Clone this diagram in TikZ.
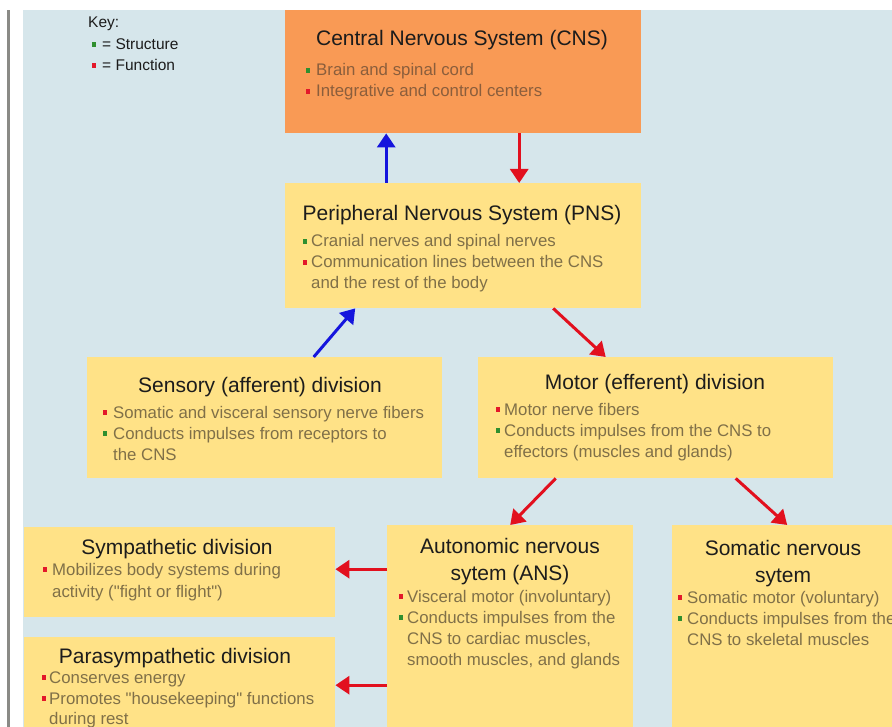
\documentclass[tikz,border=0pt]{standalone}
\usepackage{fontspec}
\setmainfont{Liberation Sans}[Ligatures=TeXOff]
\usetikzlibrary{arrows.meta}
\definecolor{bgblue}{HTML}{D6E6EB}
\definecolor{orangebox}{HTML}{F99A55}
\definecolor{yellowbox}{HTML}{FFE287}
\definecolor{bodytxt}{HTML}{807048}
\definecolor{bodytxtO}{HTML}{8B5E3C}
\definecolor{titletxt}{HTML}{1C1C1C}
\definecolor{arrblue}{HTML}{1515DD}
\definecolor{arrred}{HTML}{E2101E}
\definecolor{bulgreen}{HTML}{2F8F2F}
\definecolor{bulred}{HTML}{E3182A}
\definecolor{edgegray}{HTML}{8A8A86}
\newcommand{\bul}[2]{\llap{\textcolor{#1}{\rule[3.2pt]{4.5pt}{4.5pt}}\hspace{#2}}}
\begin{document}
\begin{tikzpicture}[x=1pt,y=-1pt,
  box/.style={rectangle, draw=none, inner sep=0, anchor=north west},
  ybox/.style={box, fill=yellowbox},
  title/.style={font=\fontsize{21}{25}\selectfont, text=titletxt, inner sep=0, anchor=base},
  body/.style={font=\fontsize{16.8}{20}\selectfont, text=bodytxt, inner sep=0, anchor=base west},
  keytxt/.style={font=\fontsize{15.5}{19}\selectfont, text=titletxt, inner sep=0, anchor=base west},
  arr/.style={line width=3pt, -{Triangle[width=18pt,length=14pt]}},
  barr/.style={arr, draw=arrblue, color=arrblue},
  rarr/.style={arr, draw=arrred, color=arrred}]
\useasboundingbox (0,0) rectangle (892,727);
\clip (0,0) rectangle (892,727);
\fill[white] (0,0) rectangle (892,727);
\fill[bgblue] (23,10) rectangle (892,727);
\fill[edgegray] (7,10) rectangle (9.5,727);

% key
\node[keytxt] (key) at (88,28) {Key:};
\node[keytxt] (keys) at (102,50) {\bul{bulgreen}{6pt}= Structure};
\node[keytxt] (keyf) at (102,71) {\bul{bulred}{6pt}= Function};

% boxes
\node[box, fill=orangebox, minimum width=356, minimum height=123] (cns) at (285,10) {};
\node[ybox, minimum width=356, minimum height=125] (pns) at (285,183) {};
\node[ybox, minimum width=355, minimum height=121] (sens) at (87,357) {};
\node[ybox, minimum width=355, minimum height=121] (mot) at (478,357) {};
\node[ybox, minimum width=311, minimum height=90] (symp) at (24,527) {};
\node[ybox, minimum width=311, minimum height=96] (para) at (24,637) {};
\node[ybox, minimum width=246, minimum height=210] (ans) at (387,525) {};
\node[ybox, minimum width=230, minimum height=210] (som) at (672,525) {};

% CNS
\node[title] (cnst) at (462,46) {Central Nervous System (CNS)};
\node[body, text=bodytxtO] (cns1) at (316,76) {\bul{bulgreen}{6pt}Brain and spinal cord};
\node[body, text=bodytxtO] (cns2) at (316,97) {\bul{bulred}{6pt}Integrative and control centers};

% PNS
\node[title] (pnst) at (462,221) {Peripheral Nervous System (PNS)};
\node[body] (pns1) at (311,247) {\bul{bulgreen}{4pt}Cranial nerves and spinal nerves};
\node[body] (pns2) at (311,268) {\bul{bulred}{4pt}Communication lines between the CNS};
\node[body] (pns3) at (311,289) {and the rest of the body};

% Sensory
\node[title] (senst) at (260,392) {Sensory (afferent) division};
\node[body] (sens1) at (113,418) {\bul{bulred}{6pt}Somatic and visceral sensory nerve fibers};
\node[body] (sens2) at (113,439) {\bul{bulgreen}{6pt}Conducts impulses from receptors to};
\node[body] (sens3) at (113,460) {the CNS};

% Motor
\node[title] (mott) at (655,390) {Motor (efferent) division};
\node[body] (mot1) at (504,415) {\bul{bulred}{4pt}Motor nerve fibers};
\node[body] (mot2) at (504,436) {\bul{bulgreen}{4pt}Conducts impulses from the CNS to};
\node[body] (mot3) at (504,457) {effectors (muscles and glands)};

% Sympathetic
\node[title] (sympt) at (177,554) {Sympathetic division};
\node[body] (symp1) at (52,575) {\bul{bulred}{5pt}Mobilizes body systems during};
\node[body] (symp2) at (52,597) {activity ("fight or flight")};

% Parasympathetic
\node[title] (parat) at (175,663) {Parasympathetic division};
\node[body] (para1) at (49,683) {\bul{bulred}{3pt}Conserves energy};
\node[body] (para2) at (49,704) {\bul{bulred}{3pt}Promotes "housekeeping" functions};
\node[body] (para3) at (49,724) {during rest};

% ANS
\node[title] (anst1) at (510,553) {Autonomic nervous};
\node[title] (anst2) at (510,580) {sytem (ANS)};
\node[body] (ans1) at (407,602) {\bul{bulred}{4pt}Visceral motor (involuntary)};
\node[body] (ans2) at (407,623) {\bul{bulgreen}{4pt}Conducts impulses from the};
\node[body] (ans3) at (407,644) {CNS to cardiac muscles,};
\node[body] (ans4) at (407,665) {smooth muscles, and glands};

% Somatic
\node[title] (somt1) at (783,555) {Somatic nervous};
\node[title] (somt2) at (783,582) {sytem};
\node[body] (som1) at (687,603) {\bul{bulred}{5pt}Somatic motor (voluntary)};
\node[body] (som2) at (687,624) {\bul{bulgreen}{5pt}Conducts impulses from the};
\node[body] (som3) at (687,645) {CNS to skeletal muscles};

% connectors
\draw[barr] ([xshift=-77pt]pns.north) -- ([xshift=-77pt]cns.south);
\draw[rarr] ([xshift=56pt]cns.south) -- ([xshift=56pt]pns.north);
\draw[barr] ([xshift=49pt]sens.north) -- ([xshift=-108pt]pns.south);
\draw[rarr] ([xshift=90pt]pns.south) -- ([xshift=-50pt]mot.north);
\draw[rarr] ([xshift=-100pt]mot.south) -- ([xshift=0pt]ans.north);
\draw[rarr] ([xshift=80pt]mot.south) -- ([xshift=0pt]som.north);
\coordinate (s1) at ([yshift=3pt]symp.east);
\coordinate (p1) at (para.east);
\draw[rarr] (ans.west |- s1) -- (s1);
\draw[rarr] (ans.west |- p1) -- (p1);
\end{tikzpicture}
\end{document}
